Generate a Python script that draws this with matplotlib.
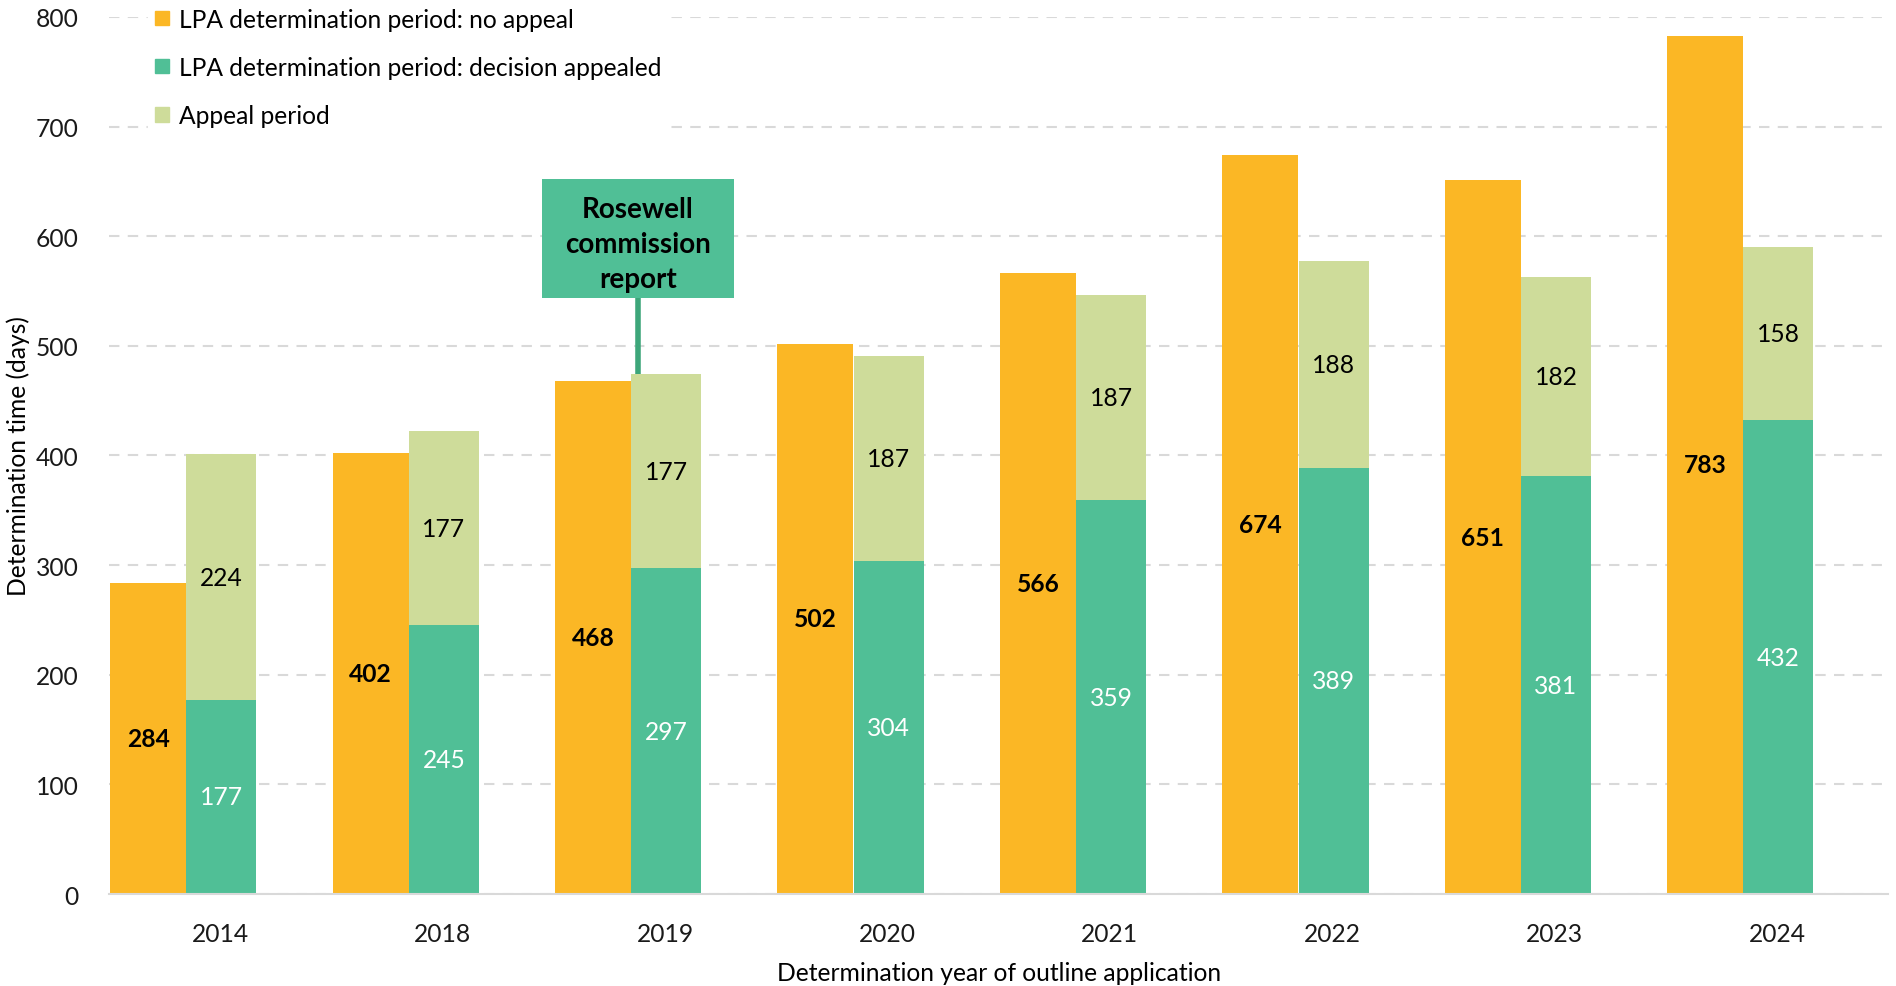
"""
Determination time of outline applications, by determination year
"""

import numpy as np
import matplotlib
matplotlib.use("Agg")
import matplotlib.pyplot as plt
from matplotlib.patches import Patch, Rectangle

plt.rcParams['font.family'] = ['Lato', 'DejaVu Sans']
plt.rcParams['font.size'] = 17.7

# data
years = ['2014', '2018', '2019', '2020', '2021', '2022', '2023', '2024']
no_appeal = [284, 402, 468, 502, 566, 674, 651, 783]
lpa_appealed = [177, 245, 297, 304, 359, 389, 381, 432]
appeal_period = [224, 177, 177, 187, 187, 188, 182, 158]

ORANGE = '#FBB725'
GREEN = '#50BF96'
LIGHT = '#CEDC9A'
GRID = '#D9D9D9'
FS = 17.7

x = np.arange(len(years))
w_orange = 0.342
w_green = 0.315
x_orange = x - 0.495 + w_orange / 2
x_green = x - 0.152 + w_green / 2

fig = plt.figure(figsize=(18.96, 9.87), dpi=100)
ax = fig.add_axes([0.0575, 0.0932, 0.9385, 0.8886])

ax.bar(x_orange, no_appeal, w_orange, color=ORANGE, zorder=2)
ax.bar(x_green, lpa_appealed, w_green, color=GREEN, zorder=2)
ax.bar(x_green, appeal_period, w_green, bottom=lpa_appealed, color=LIGHT, zorder=2)

# value labels
for i in range(len(years)):
    ax.text(x_orange[i], no_appeal[i] / 2, str(no_appeal[i]), ha='center', va='center',
            fontsize=FS, fontweight='bold', color='black', zorder=3)
    ax.text(x_green[i], lpa_appealed[i] / 2, str(lpa_appealed[i]), ha='center', va='center',
            fontsize=FS, color='white', zorder=3)
    ax.text(x_green[i], lpa_appealed[i] + appeal_period[i] / 2, str(appeal_period[i]),
            ha='center', va='center', fontsize=FS, color='black', zorder=3)

# Rosewell commission report marker on 2019
idx = years.index('2019')
mx = x[idx] - 0.122
box_w, box_lo, box_hi = 0.864, 543.5, 652.5
ax.add_patch(Rectangle((mx - box_w / 2, box_lo), box_w, box_hi - box_lo,
                       facecolor=GREEN, edgecolor='none', zorder=4))
ax.plot([mx, mx], [box_lo, lpa_appealed[idx] + appeal_period[idx]],
        color='#3DA67A', lw=4, solid_capstyle='butt', zorder=4)
ax.text(mx, (box_lo + box_hi) / 2 - 5, 'Rosewell\ncommission\nreport', ha='center', va='center',
        fontsize=20, fontweight='bold', linespacing=1.42, color='black', zorder=5)

ax.set_xlim(-0.5, len(years) - 0.5)
ax.set_ylim(0, 800)
ax.set_yticks(range(0, 801, 100))
ax.set_xticks(x)
ax.set_xticklabels(years)
ax.tick_params(axis='both', length=0, labelsize=FS, colors='#1a1a1a')
ax.tick_params(axis='x', pad=20)
ax.tick_params(axis='y', pad=22)
ax.yaxis.grid(True, linestyle=(0, (5, 4)), color=GRID, lw=1.5, zorder=0)
ax.set_axisbelow(True)
for s in ['top', 'right', 'left']:
    ax.spines[s].set_visible(False)
ax.spines['bottom'].set_color(GRID)
ax.spines['bottom'].set_linewidth(1.5)

ax.set_xlabel('Determination year of outline application', fontsize=FS, labelpad=12)
ax.set_ylabel('Determination time (days)', fontsize=FS, labelpad=4)

handles = [Patch(color=ORANGE, label='LPA determination period: no appeal'),
           Patch(color=GREEN, label='LPA determination period: decision appealed'),
           Patch(color=LIGHT, label='Appeal period')]
leg = ax.legend(handles=handles, loc='upper left', bbox_to_anchor=(0.015, 1.033),
                frameon=True, facecolor='white', edgecolor='white', framealpha=1,
                fontsize=FS, labelspacing=1.02, handlelength=0.55, handleheight=0.55,
                handletextpad=0.4, borderpad=0.3, fancybox=False)
leg.set_zorder(5)

fig.savefig('out.png', dpi=100)
